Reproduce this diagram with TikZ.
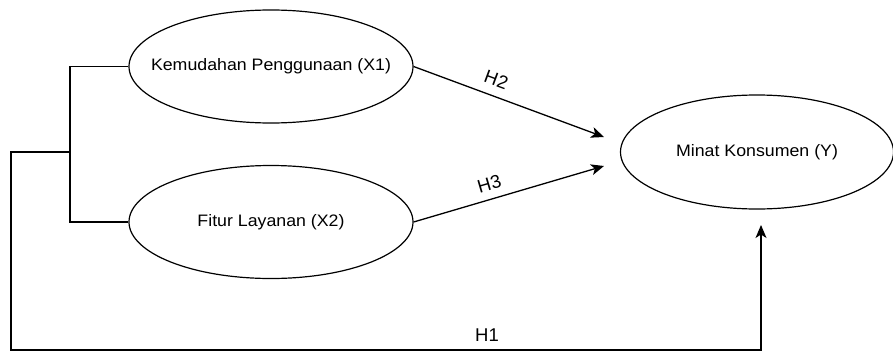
\documentclass[tikz,border=0pt]{standalone}
\usepackage{fontspec}
\setmainfont{Liberation Sans}
\newfontfamily\nodefont[FakeStretch=1.07]{Liberation Sans}
\usetikzlibrary{shapes.geometric,arrows.meta}
\tikzset{
  latent/.style={draw=black, line width=1.2pt, ellipse, inner sep=0pt,
    font=\nodefont\fontsize{16.6}{19}\selectfont},
  link/.style={draw=black, line width=1.3pt},
  arr/.style={link, -{Stealth[length=13pt,width=11pt,inset=3.5pt]}},
  hlab/.style={inner sep=0pt, font=\fontsize{18.5}{22}\selectfont},
}
\newcommand{\ctext}[1]{\makebox[0pt][c]{#1}}
\begin{document}
\begin{tikzpicture}[x=1pt,y=-1pt]
\useasboundingbox (0,0) rectangle (893,351);
\node[latent, minimum width=284pt, minimum height=113pt] (x1) at (271,66.5) {\ctext{Kemudahan Penggunaan (X1)}};
\node[latent, minimum width=284pt, minimum height=113pt] (x2) at (271,222) {\ctext{Fitur Layanan (X2)}};
\node[latent, minimum width=273pt, minimum height=114pt] (y) at (757,152) {\ctext{Minat Konsumen (Y)}};
\coordinate (t2) at (604,137);
\coordinate (t3) at (604,166);
\coordinate (j) at (70,152);
\coordinate (bl) at (11,350);
\coordinate (t1) at (761,225);
\draw[arr] (x1.east) -- node[hlab, pos=0.405, sloped, above=9pt] {H2} (t2);
\draw[arr] (x2.east) -- node[hlab, pos=0.42, sloped, above=8pt] {H3} (t3);
\draw[link] (x1.west) -| (j) |- (x2.west);
\draw[arr] (j) -| (bl) -| (t1);
\node[hlab, fill=white, inner sep=1pt] (h1) at (487,335.5) {H1};
\end{tikzpicture}
\end{document}
